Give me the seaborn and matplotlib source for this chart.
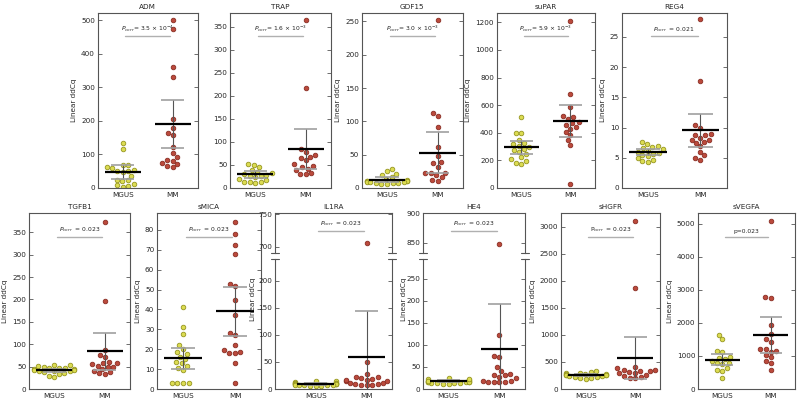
import warnings
import numpy as np
import pandas as pd
import matplotlib
matplotlib.use("Agg")
import matplotlib.pyplot as plt
import seaborn as sns

warnings.filterwarnings("ignore")

GROUPS = ["MGUS", "MM"]

# values (Linear ddCq), one list per group
ADM_MGUS = [133, 115, 68, 67, 62, 60, 55, 52, 50, 48, 35, 25, 23, 20, 12, 8, 5, 4]
ADM_MM = [500, 472, 360, 330, 205, 178, 164, 157, 122, 103, 91, 84, 80, 74, 72, 65, 63]
TRAP_MGUS = [53, 49, 46, 38, 35, 33, 31, 29, 27, 26, 24, 20, 17, 13, 12, 12, 11]
TRAP_MM = [364, 217, 84, 78, 72, 67, 66, 60, 51, 48, 46, 42, 40, 33, 31, 31]
GDF15_MGUS = [29, 26, 21, 19, 16, 14, 12, 11, 10, 10, 10, 9, 9, 9, 8, 8, 7, 6, 6]
GDF15_MM = [252, 113, 108, 92, 62, 48, 39, 37, 32, 23, 22, 22, 19, 16, 12, 10]
SUPAR_MGUS = [511, 400, 395, 346, 327, 317, 305, 300, 286, 274, 262, 245, 225, 208, 196, 184, 177]
SUPAR_MM = [1213, 680, 588, 520, 511, 499, 477, 470, 458, 443, 431, 407, 382, 346, 310, 31]
REG4_MGUS = [7.6, 7.2, 6.9, 6.8, 6.6, 6.4, 6.2, 6.0, 5.8, 5.7, 5.5, 5.3, 5.0, 4.7, 4.5, 4.3]
REG4_MM = [27.9, 17.7, 10.4, 10.0, 9.0, 8.8, 8.7, 8.3, 8.0, 7.9, 7.6, 7.5, 6.9, 6.0, 5.4, 4.9, 4.7]
TGFB1_MGUS = [54, 53, 52, 50, 48, 47, 46, 45, 44, 43, 42, 41, 40, 40, 38, 36, 34, 30, 27]
TGFB1_MM = [374, 196, 87, 77, 71, 61, 59, 57, 55, 52, 49, 49, 45, 41, 37, 35, 34]
SMICA_MGUS = [41, 31, 27.5, 22, 20, 18.5, 17.6, 16.3, 15, 13.8, 13, 11.7, 10.4, 9.6, 2.9, 2.9, 2.9, 2.9]
SMICA_MM = [84, 78, 72.5, 68, 53, 52, 45, 37, 28, 27, 22, 19.6, 18.8, 18.3, 18, 13, 3.2]
IL1RA_MGUS = [15, 14, 13, 12, 12, 11, 11, 10, 10, 9, 9, 9, 8, 8, 8, 7, 7, 6, 6, 5]
IL1RA_MM = [706, 50, 28, 22, 19, 17, 14, 12, 10, 8, 7, 8, 10, 12, 14, 17, 20, 22]
HE4_MGUS = [26, 22, 20, 19, 18, 17, 16, 15, 14, 13, 12, 12, 13, 14, 15, 17, 19, 22]
HE4_MM = [848, 123, 74, 72, 50, 40, 32, 25, 19, 17, 15, 15, 17, 19, 28, 31, 35]
SHGFR_MGUS = [340, 310, 300, 290, 285, 280, 270, 265, 260, 255, 250, 245, 240, 230, 220, 210, 200, 180]
SHGFR_MM = [3100, 1870, 400, 380, 360, 350, 340, 330, 320, 300, 290, 260, 240, 230, 210, 200]
SVEGFA_MGUS = [1640, 1510, 1150, 1130, 980, 930, 900, 850, 800, 780, 750, 650, 575, 555, 340]
SVEGFA_MM = [5090, 2780, 2750, 1940, 1670, 1500, 1410, 1200, 1200, 1160, 1130, 1030, 960, 850, 780, 575]

# mean and error bar ends (low, high) as drawn, per group [MGUS, MM]
ADM_MEAN, ADM_LO, ADM_HI = [47, 191], [27, 120], [68, 262]
TRAP_MEAN, TRAP_LO, TRAP_HI = [30, 85], [22, 42], [36, 128]
GDF15_MEAN, GDF15_LO, GDF15_HI = [12.5, 53], [9, 23], [16, 84]
SUPAR_MEAN, SUPAR_LO, SUPAR_HI = [295, 487], [249, 370], [339, 600]
REG4_MEAN, REG4_LO, REG4_HI = [5.96, 9.55], [5.5, 6.8], [6.4, 12.3]
TGFB1_MEAN, TGFB1_LO, TGFB1_HI = [42, 85], [39, 43], [45, 126]
SMICA_MEAN, SMICA_LO, SMICA_HI = [15.4, 39.3], [9.9, 26.7], [20.8, 51.5]
IL1RA_MEAN, IL1RA_LO, IL1RA_HI = [9, 59], [7, -30], [11, 144]
HE4_MEAN, HE4_LO, HE4_HI = [18, 91], [15, -10], [21, 192]
SHGFR_MEAN, SHGFR_LO, SHGFR_HI = [260, 575], [240, 185], [280, 960]
SVEGFA_MEAN, SVEGFA_LO, SVEGFA_HI = [880, 1630], [730, 1080], [1050, 2170]

PVAL = {
    "ADM": r"$P_{corr}$= 3.5 × 10$^{-4}$",
    "TRAP": r"$P_{corr}$= 1.6 × 10$^{-3}$",
    "GDF15": r"$P_{corr}$= 3.0 × 10$^{-3}$",
    "suPAR": r"$P_{corr}$= 5.9 × 10$^{-3}$",
    "REG4": r"$P_{corr}$  = 0.021",
    "TGFB1": r"$P_{corr}$  = 0.023",
    "sMICA": r"$P_{corr}$  = 0.023",
    "IL1RA": r"$P_{corr}$  = 0.023",
    "HE4": r"$P_{corr}$  = 0.023",
    "sHGFR": r"P$_{corr}$  = 0.023",
    "sVEGFA": "p=0.023",
}

COL_FACE = {"MGUS": "#dcdc52", "MM": "#bb4a3c"}
COL_EDGE = {"MGUS": "#969620", "MM": "#8a2e24"}
SPINE = "#555555"
FS = 5.2

W, H = 800, 403


def rect(x0, x1, ytop, ybot):
    return [x0 / W, 1 - ybot / H, (x1 - x0) / W, (ybot - ytop) / H]


def make_df(mgus, mm):
    return pd.DataFrame({
        "group": ["MGUS"] * len(mgus) + ["MM"] * len(mm),
        "value": list(mgus) + list(mm),
    })


def style_axes(ax):
    for sp in ax.spines.values():
        sp.set_color(SPINE)
        sp.set_linewidth(0.8)
    ax.tick_params(axis="y", direction="in", length=3, width=0.6, color=SPINE,
                   labelsize=FS, right=True, left=True, pad=2)
    ax.tick_params(axis="x", length=0, labelsize=FS, pad=3)
    ax.set_xlabel("")
    ax.set_ylabel("")


def draw_points(ax, df, xlim):
    for g in GROUPS:
        sns.swarmplot(data=df[df.group == g], x="group", y="value", order=GROUPS,
                      color=COL_FACE[g], edgecolor=COL_EDGE[g], linewidth=0.6,
                      size=3.3, ax=ax, zorder=2)
    ax.set_xlim(*xlim)


def draw_stats(ax, mean, lo, hi):
    for i in range(2):
        ax.plot([i, i], [lo[i], hi[i]], color="#555555", lw=0.8, zorder=3)
        ax.hlines([lo[i], hi[i]], i - 0.23, i + 0.23, color="#a0a0a0", lw=1.2, zorder=3)
        ax.hlines(mean[i], i - 0.36, i + 0.36, color="black", lw=1.6, zorder=4)


def draw_pval(ax, text, yfrac=0.865):
    ax.plot([0.05, 0.95], [yfrac, yfrac], color="#b0b0b0", lw=1.0,
            transform=ax.get_xaxis_transform(), zorder=1)
    ax.annotate(text, xy=(0.5, yfrac), xycoords=ax.get_xaxis_transform(),
                xytext=(0, 2), textcoords="offset points",
                ha="center", va="bottom", fontsize=4.3, color="#222222")


def panel(fig, pos, name, mgus, mm, mean, lo, hi, ylim, yticks,
          ylabel=True, xlim=(-0.5, 1.5)):
    ax = fig.add_axes(pos)
    draw_points(ax, make_df(mgus, mm), xlim)
    draw_stats(ax, mean, lo, hi)
    ax.set_ylim(*ylim)
    ax.set_yticks(yticks)
    style_axes(ax)
    ax.set_title(name, fontsize=FS, pad=3)
    if ylabel:
        ax.set_ylabel("Linear ddCq", fontsize=FS, labelpad=3)
    draw_pval(ax, PVAL[name])
    return ax


def broken_panel(fig, x0, x1, name, mgus, mm, mean, lo, hi,
                 ylim_top, ticks_top, ylim_bot, ticks_bot, xlim=(-0.5, 1.5)):
    ax_t = fig.add_axes(rect(x0, x1, 213, 252.7))
    ax_b = fig.add_axes(rect(x0, x1, 259, 389))
    df = make_df(mgus, mm)
    for ax, yl, yt in [(ax_t, ylim_top, ticks_top), (ax_b, ylim_bot, ticks_bot)]:
        draw_points(ax, df, xlim)
        draw_stats(ax, mean, lo, hi)
        ax.set_ylim(*yl)
        ax.set_yticks(yt)
        style_axes(ax)
    ax_t.spines["bottom"].set_visible(False)
    ax_b.spines["top"].set_visible(False)
    ax_t.set_xticks([])
    ax_t.set_title(name, fontsize=FS, pad=3)
    ax_b.set_ylabel("Linear ddCq", fontsize=FS)
    ax_b.yaxis.set_label_coords(-0.16, 0.69)
    d = 0.035
    for xs in (0, 1):
        ax_t.plot([xs - d, xs + d], [0, 0], transform=ax_t.transAxes,
                  color=SPINE, lw=0.8, clip_on=False)
        ax_b.plot([xs - d, xs + d], [1, 1], transform=ax_b.transAxes,
                  color=SPINE, lw=0.8, clip_on=False)
    draw_pval(ax_t, PVAL[name], yfrac=0.55)
    return ax_t, ax_b


sns.set_style("white")
plt.rcParams["font.family"] = ["DejaVu Sans"]
fig = plt.figure(figsize=(8, 4.03), dpi=100)

top, bot = 12.7, 188
panel(fig, rect(97.7, 197.7, top, bot), "ADM", ADM_MGUS, ADM_MM,
      ADM_MEAN, ADM_LO, ADM_HI, (0, 522), np.arange(0, 501, 100))
panel(fig, rect(230, 331, top, bot), "TRAP", TRAP_MGUS, TRAP_MM,
      TRAP_MEAN, TRAP_LO, TRAP_HI, (0, 380), np.arange(0, 351, 50), ylabel=False)
panel(fig, rect(361.7, 463, top, bot), "GDF15", GDF15_MGUS, GDF15_MM,
      GDF15_MEAN, GDF15_LO, GDF15_HI, (0, 263), np.arange(0, 251, 50))
panel(fig, rect(496.7, 595, top, bot), "suPAR", SUPAR_MGUS, SUPAR_MM,
      SUPAR_MEAN, SUPAR_LO, SUPAR_HI, (0, 1270), np.arange(0, 1201, 200))
panel(fig, rect(621.7, 726.7, top, bot), "REG4", REG4_MGUS, REG4_MM,
      REG4_MEAN, REG4_LO, REG4_HI, (0, 29), np.arange(0, 26, 5))

top, bot = 213, 389
panel(fig, rect(29, 130, top, bot), "TGFB1", TGFB1_MGUS, TGFB1_MM,
      TGFB1_MEAN, TGFB1_LO, TGFB1_HI, (0, 393), np.arange(0, 351, 50))
panel(fig, rect(157, 261, top, bot), "sMICA", SMICA_MGUS, SMICA_MM,
      SMICA_MEAN, SMICA_LO, SMICA_HI, (0, 88.5), np.arange(0, 81, 10))
broken_panel(fig, 275, 392, "IL1RA", IL1RA_MGUS, IL1RA_MM,
             IL1RA_MEAN, IL1RA_LO, IL1RA_HI, (691, 752), [700, 750],
             (0, 240), np.arange(0, 201, 50), xlim=(-0.8, 1.5))
broken_panel(fig, 423, 525, "HE4", HE4_MGUS, HE4_MM,
             HE4_MEAN, HE4_LO, HE4_HI, (833, 900), [850, 900],
             (0, 295), np.arange(0, 251, 50))
panel(fig, rect(561, 660, top, bot), "sHGFR", SHGFR_MGUS, SHGFR_MM,
      SHGFR_MEAN, SHGFR_LO, SHGFR_HI, (0, 3254), np.arange(0, 3001, 500))
panel(fig, rect(698, 795, top, bot), "sVEGFA", SVEGFA_MGUS, SVEGFA_MM,
      SVEGFA_MEAN, SVEGFA_LO, SVEGFA_HI, (0, 5333), np.arange(0, 5001, 1000))

fig.savefig("out.png", dpi=100)
